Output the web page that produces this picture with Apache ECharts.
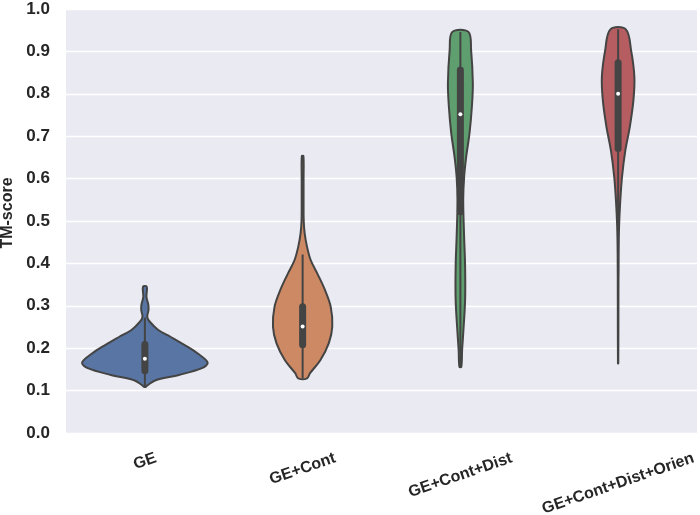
<!DOCTYPE html>
<html>
<head>
<meta charset="utf-8">
<script src="https://cdn.jsdelivr.net/npm/echarts@6/dist/echarts.min.js"></script>
<style>
  html, body { margin: 0; padding: 0; background: #fff; }
  #chart { width: 700px; height: 515px; }
</style>
</head>
<body>
<div id="chart"></div>
<script>
// categories on the x axis
var categories = ['GE', 'GE+Cont', 'GE+Cont+Dist', 'GE+Cont+Dist+Orien'];
var yTicks = [0, 0.1, 0.2, 0.3, 0.4, 0.5, 0.6, 0.7, 0.8, 0.9, 1.0];

// violin outlines: [TM-score, half width as share of the category band]
var profileGE = [
  [0.345, 0.012], [0.321, 0.010], [0.302, 0.022], [0.290, 0.023], [0.274, 0.015],
  [0.263, 0.030], [0.243, 0.085], [0.227, 0.162], [0.208, 0.250], [0.188, 0.333],
  [0.166, 0.398], [0.153, 0.362], [0.137, 0.216], [0.125, 0.072], [0.113, 0.018],
  [0.109, 0.006]
];
var profileCont = [
  [0.653, 0.005], [0.600, 0.006], [0.550, 0.006], [0.500, 0.007], [0.471, 0.013],
  [0.439, 0.028], [0.408, 0.051], [0.377, 0.092], [0.337, 0.142], [0.298, 0.178],
  [0.251, 0.188], [0.212, 0.166], [0.172, 0.113], [0.141, 0.047], [0.129, 0.028]
];
var profileDist = [
  [0.946, 0.051], [0.903, 0.068], [0.825, 0.079], [0.770, 0.073], [0.707, 0.058],
  [0.652, 0.037], [0.605, 0.024], [0.550, 0.018], [0.471, 0.023], [0.392, 0.030],
  [0.314, 0.030], [0.235, 0.018], [0.196, 0.011], [0.156, 0.006]
];
var profileOrien = [
  [0.952, 0.049], [0.903, 0.082], [0.840, 0.103], [0.785, 0.097], [0.722, 0.074],
  [0.667, 0.046], [0.605, 0.025], [0.550, 0.014], [0.487, 0.006], [0.424, 0.003],
  [0.314, 0.002], [0.164, 0.001]
];
var profiles = [profileGE, profileCont, profileDist, profileOrien];

// inner box stats
var whiskerLow = [0.109, 0.129, 0.156, 0.370];
var q1 = [0.147, 0.208, 0.522, 0.671];
var median = [0.175, 0.251, 0.752, 0.800];
var q3 = [0.209, 0.298, 0.856, 0.873];
var whiskerHigh = [0.272, 0.421, 0.946, 0.952];

var colors = ['#5875a4', '#cc8963', '#5f9e6e', '#b55d60'];
var edge = '#444444';
var labelFont = 'bold 16px "Liberation Sans", Arial, sans-serif';
var labelAngle = 19 * Math.PI / 180;

var measure = document.createElement('canvas').getContext('2d');
measure.font = labelFont;

function renderViolin(params, api) {
  var i = api.value(0);
  var cx = api.coord([i, 0])[0];
  var band = api.size([1, 0])[0];
  var prof = profiles[i];
  var pts = [];
  prof.forEach(function (p) {
    pts.push([cx + p[1] * band, api.coord([i, p[0]])[1]]);
  });
  prof.slice().reverse().forEach(function (p) {
    pts.push([cx - p[1] * band, api.coord([i, p[0]])[1]]);
  });
  var yLo = api.coord([i, whiskerLow[i]])[1];
  var yHi = api.coord([i, whiskerHigh[i]])[1];
  var yQ1 = api.coord([i, q1[i]])[1];
  var yQ3 = api.coord([i, q3[i]])[1];
  var yMed = api.coord([i, median[i]])[1];

  // x tick label, centred under the tick, top edge of the rotated box fixed
  var text = categories[i];
  var w = measure.measureText(text).width;
  var h = 12;
  var top = api.coord([i, 0])[1] + 19;
  var ly = top + (w * Math.sin(labelAngle) + h * Math.cos(labelAngle)) / 2;

  return {
    type: 'group',
    children: [
      {
        type: 'polygon',
        shape: { points: pts, smooth: 0.35 },
        style: { fill: colors[i], stroke: edge, lineWidth: 2 }
      },
      {
        type: 'line',
        shape: { x1: cx, y1: yLo, x2: cx, y2: yHi },
        style: { stroke: edge, lineWidth: 2 }
      },
      {
        type: 'line',
        shape: { x1: cx, y1: yQ1, x2: cx, y2: yQ3 },
        style: { stroke: edge, lineWidth: 7, lineCap: 'round' }
      },
      {
        type: 'circle',
        shape: { cx: cx, cy: yMed, r: 2 },
        style: { fill: '#ffffff' }
      },
      {
        type: 'text',
        x: cx,
        y: ly,
        rotation: labelAngle,
        style: {
          text: text,
          font: labelFont,
          fill: '#262626',
          align: 'center',
          verticalAlign: 'middle'
        }
      }
    ]
  };
}

var chart = echarts.init(document.getElementById('chart'));
var option = {
  animation: false,
  backgroundColor: '#ffffff',
  grid: {
    left: 66, right: 3, top: 9, bottom: 82,
    outerBoundsMode: 'none',
    containLabel: false,
    show: true, backgroundColor: '#eaeaf2', borderWidth: 0
  },
  xAxis: {
    type: 'category',
    data: categories,
    axisLine: { show: false },
    axisTick: { show: false },
    axisLabel: { show: false },
    splitLine: { show: false }
  },
  yAxis: {
    type: 'value',
    min: yTicks[0],
    max: yTicks[yTicks.length - 1],
    interval: 0.1,
    name: 'TM-score',
    nameLocation: 'middle',
    nameGap: 50,
    nameTextStyle: {
      fontFamily: 'Liberation Sans',
      fontWeight: 'bold',
      fontSize: 16,
      color: '#262626',
      padding: [0, 0, 0, 16]
    },
    axisLine: { show: false },
    axisTick: { show: false },
    axisLabel: {
      margin: 16,
      fontFamily: 'Liberation Sans',
      fontWeight: 'bold',
      fontSize: 17,
      color: '#262626',
      formatter: function (v) { return v.toFixed(1); }
    },
    splitLine: { lineStyle: { color: '#ffffff', width: 1.3 } }
  },
  series: [{
    type: 'custom',
    renderItem: renderViolin,
    data: categories.map(function (c, i) { return [i]; }),
    z: 3
  }]
};
chart.setOption(option);
</script>
</body>
</html>
